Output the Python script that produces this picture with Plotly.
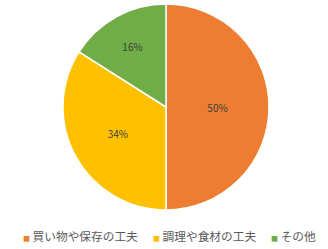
import plotly.graph_objects as go

labels = ["買い物や保存の工夫", "調理や食材の工夫", "その他"]
values = [50, 34, 16]
colors = ["#ED7D31", "#FFC000", "#70AD47"]

fig = go.Figure(go.Pie(
    labels=labels,
    values=values,
    sort=False,
    direction="clockwise",
    rotation=0,
    marker=dict(colors=colors, line=dict(color="white", width=1.5)),
    textinfo="percent",
    textposition="inside",
    insidetextorientation="horizontal",
    texttemplate="%{percent:.0%}",
    textfont=dict(color="#404040", size=10, family="Noto Sans CJK JP"),
    domain=dict(x=[0.0, 1.0], y=[0, 1]),
    showlegend=False,
))

# legend drawn as text entries (coloured square + label)
W, L, T, B = 328, 4, 4, 39
plot_h = 249 - T - B
legend_px = [21, 151, 269]
for lab, col, px in zip(labels, colors, legend_px):
    fig.add_annotation(
        x=(px - L) / (W - L), y=(T + plot_h - 235) / plot_h,
        xref="paper", yref="paper",
        xanchor="left", yanchor="middle",
        showarrow=False,
        text=f"<span style='color:{col};font-size:7px'>■</span> {lab}",
        font=dict(family="Noto Sans CJK JP", size=11.7, color="#595959"),
    )

fig.update_layout(
    width=W, height=249,
    margin=dict(l=L, r=0, t=T, b=B),
    paper_bgcolor="white",
    plot_bgcolor="white",
    font=dict(family="Noto Sans CJK JP", color="#595959", size=11),
)

fig.write_html("out.html")
